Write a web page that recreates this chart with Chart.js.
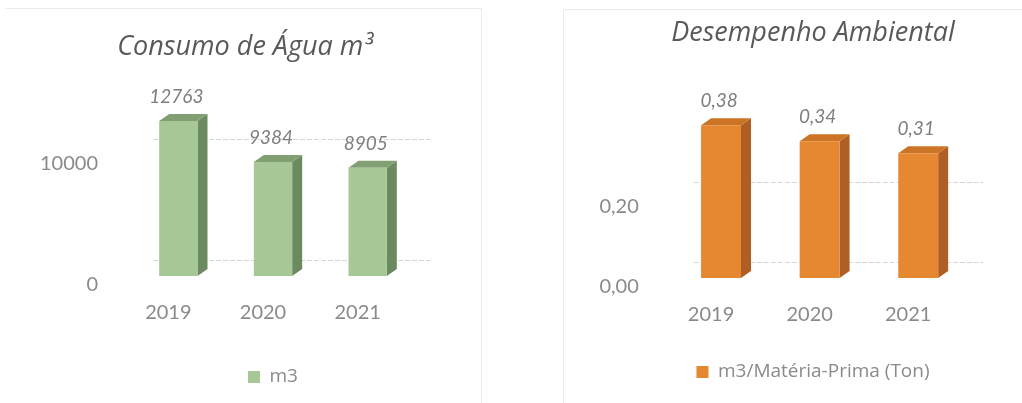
<!DOCTYPE html>
<html lang="pt-BR">
<head>
<meta charset="utf-8">
<title>Consumo de Água e Desempenho Ambiental</title>
<script src="https://cdn.jsdelivr.net/npm/chart.js@4.4.1/dist/chart.umd.min.js"></script>
<style>
  html, body { margin: 0; padding: 0; background: #fff; }
  #pagina { position: relative; width: 1022px; height: 403px; overflow: hidden; }
  .moldura { position: absolute; border: 0 solid #ebebeb; }
  .caixa { position: absolute; top: 0; height: 403px; }
  #caixaAgua { left: 0; width: 511px; }
  #caixaDesempenho { left: 511px; width: 540px; }
</style>
</head>
<body>
<div id="pagina">
  <div class="moldura" style="left:5px; top:8px; width:476px; height:400px; border-top-width:1px; border-right-width:1px;"></div>
  <div class="moldura" style="left:563px; top:9px; width:470px; height:400px; border-top-width:1px; border-left-width:1px;"></div>
  <div class="caixa" id="caixaAgua"><canvas id="graficoAgua" width="511" height="403"></canvas></div>
  <div class="caixa" id="caixaDesempenho"><canvas id="graficoDesempenho" width="540" height="403"></canvas></div>
</div>

<script>
// Dados dos dois gráficos
const ANOS = ["2019", "2020", "2021"];
const CONSUMO_AGUA = [12763, 9384, 8905];
const DESEMPENHO = [0.38, 0.34, 0.31];
const TICKS_AGUA = [0, 10000];
const TICKS_DESEMPENHO = [0, 0.2];

const FONTE = "Lato, 'Open Sans', sans-serif";
const FONTE_LARGA = "'Open Sans', Lato, sans-serif";
const COR_TEXTO = "#8a8a8a";

// Profundidade das barras "3D" e deslocamento da parede do fundo
const PROF_DX = 10;
const PROF_DY = -7;
const FUNDO_DY = -16;

const formatoAgua = (v) => String(v);
const formatoDesempenho = (v) => v.toFixed(2).replace(".", ",");

// Desenha a grade no fundo, as faces lateral/superior das barras e os rótulos
const barras3D = {
  id: "barras3D",
  beforeDatasetsDraw(chart, args, opts) {
    const { ctx, chartArea, scales } = chart;
    ctx.save();
    ctx.strokeStyle = "#d6d6d6";
    ctx.lineWidth = 1;
    ctx.setLineDash([5, 2]);
    opts.grade.forEach((v) => {
      const y = Math.round(scales.y.getPixelForValue(v) + FUNDO_DY) + 0.5;
      ctx.beginPath();
      ctx.moveTo(chartArea.left + 22, y);
      ctx.lineTo(chartArea.right + 16, y);
      ctx.stroke();
    });
    ctx.setLineDash([]);

    chart.getDatasetMeta(0).data.forEach((bar) => {
      const { x, y, base, width } = bar.getProps(["x", "y", "base", "width"], true);
      const esq = x - width / 2;
      const dir = x + width / 2;

      ctx.fillStyle = opts.corLateral;
      ctx.beginPath();
      ctx.moveTo(dir, y);
      ctx.lineTo(dir + PROF_DX, y + PROF_DY);
      ctx.lineTo(dir + PROF_DX, base + PROF_DY);
      ctx.lineTo(dir, base);
      ctx.closePath();
      ctx.fill();

      ctx.fillStyle = opts.corTopo;
      ctx.beginPath();
      ctx.moveTo(esq, y);
      ctx.lineTo(esq + PROF_DX, y + PROF_DY);
      ctx.lineTo(dir + PROF_DX, y + PROF_DY);
      ctx.lineTo(dir, y);
      ctx.closePath();
      ctx.fill();
    });
    ctx.restore();
  },
  afterDatasetsDraw(chart, args, opts) {
    const { ctx } = chart;
    const valores = chart.data.datasets[0].data;
    ctx.save();
    ctx.fillStyle = "#7f7f7f";
    ctx.font = "italic 19px " + FONTE;
    ctx.textAlign = "center";
    ctx.textBaseline = "middle";
    chart.getDatasetMeta(0).data.forEach((bar, i) => {
      const { x, y } = bar.getProps(["x", "y"], true);
      ctx.fillText(opts.formato(valores[i]), x - 2, y - 24);
    });
    ctx.restore();
  },
};

function criarGrafico(elementId, cfg) {
  const canvas = document.getElementById(elementId);
  if (!canvas) return;

  new Chart(canvas.getContext("2d"), {
    type: "bar",
    data: {
      labels: ANOS,
      datasets: [
        {
          label: cfg.legenda,
          data: cfg.valores,
          backgroundColor: cfg.corFrente,
          borderWidth: 0,
          categoryPercentage: 1,
          barPercentage: 0.405,
        },
      ],
    },
    plugins: [barras3D],
    options: {
      responsive: false,
      animation: false,
      layout: { padding: cfg.padding },
      plugins: {
        title: {
          display: true,
          text: cfg.titulo,
          color: "#595959",
          font: { family: FONTE_LARGA, size: 27, style: "italic", weight: "normal" },
          padding: cfg.paddingTitulo,
        },
        legend: {
          position: "bottom",
          fullSize: cfg.legendaCheia,
          labels: {
            color: COR_TEXTO,
            font: { family: FONTE_LARGA, size: 19 },
            boxWidth: 12,
            boxHeight: 12,
            padding: cfg.paddingLegenda,
          },
        },
        tooltip: { enabled: false },
        barras3D: {
          grade: cfg.ticks,
          corLateral: cfg.corLateral,
          corTopo: cfg.corTopo,
          formato: cfg.formato,
        },
      },
      scales: {
        x: {
          grid: { display: false, drawTicks: false },
          border: { display: false },
          ticks: {
            color: COR_TEXTO,
            font: { family: FONTE, size: 20 },
            padding: 25,
            labelOffset: -10,
          },
        },
        y: {
          min: 0,
          max: cfg.maximo,
          grid: { display: false, drawTicks: false },
          border: { display: false },
          afterFit: (scale) => {
            scale.width = cfg.larguraEixo;
          },
          afterBuildTicks: (scale) => {
            scale.ticks = cfg.ticks.map((v) => ({ value: v }));
          },
          ticks: {
            color: COR_TEXTO,
            font: { family: FONTE, size: 20 },
            padding: 33,
            labelOffset: 9,
            callback: (v) => cfg.formato(v),
          },
        },
        // eixo vazio à direita, só para reservar espaço ao lado da área do gráfico
        margem: {
          type: "linear",
          position: "right",
          grid: { display: false, drawTicks: false },
          border: { display: false },
          ticks: { display: false },
          afterFit: (scale) => {
            scale.width = cfg.margemDireita;
          },
        },
      },
    },
  });
}

criarGrafico("graficoAgua", {
  titulo: "Consumo de Água m³",
  legenda: "m3",
  valores: CONSUMO_AGUA,
  ticks: TICKS_AGUA,
  maximo: 14000,
  formato: formatoAgua,
  corFrente: "#a5c896",
  corLateral: "#6c8a60",
  corTopo: "#819f73",
  padding: { left: 30, right: 51, top: 0, bottom: 6.5 },
  paddingTitulo: { top: 30.8, bottom: 42.8 },
  paddingLegenda: 17.5,
  legendaCheia: false,
  larguraEixo: 101,
  margemDireita: 45,
});

criarGrafico("graficoDesempenho", {
  titulo: "Desempenho Ambiental",
  legenda: "m3/Matéria-Prima (Ton)",
  valores: DESEMPENHO,
  ticks: TICKS_DESEMPENHO,
  maximo: 0.45,
  formato: formatoDesempenho,
  corFrente: "#e68732",
  corLateral: "#af5f23",
  corTopo: "#cc7426",
  padding: { left: 70, right: 6, top: 0, bottom: 11.5 },
  paddingTitulo: { top: 16.8, bottom: 47.8 },
  paddingLegenda: 10.5,
  legendaCheia: true,
  larguraEixo: 90.75,
  margemDireita: 77.5,
});
</script>
</body>
</html>
